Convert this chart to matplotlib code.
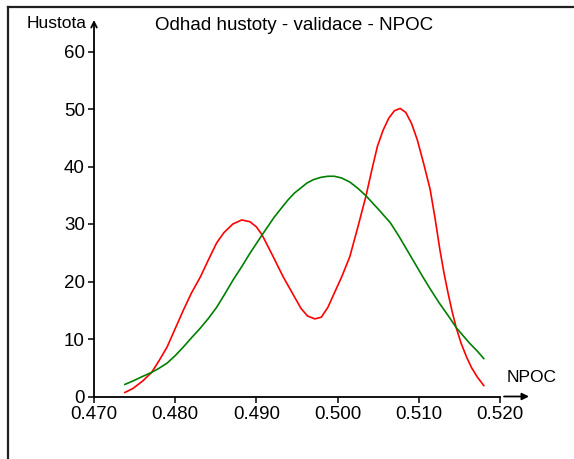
import matplotlib
matplotlib.use("Agg")
from matplotlib import pyplot as plt
from matplotlib.lines import Line2D

# kernel density estimate - validation data (red) and normal fit (green)
red_x = [0.4738, 0.4748, 0.4760, 0.4771, 0.4780, 0.4790, 0.4800, 0.4810, 0.4820,
         0.4831, 0.4841, 0.4851, 0.4860, 0.4871, 0.4882, 0.4892, 0.4900, 0.4907,
         0.4920, 0.4933, 0.4945, 0.4955, 0.4963, 0.4972, 0.4980, 0.4988, 0.4996,
         0.5005, 0.5015, 0.5025, 0.5035, 0.5042, 0.5049, 0.5056, 0.5063, 0.5070,
         0.5077, 0.5084, 0.5091, 0.5098, 0.5106, 0.5114, 0.5120, 0.5126, 0.5131,
         0.5136, 0.5141, 0.5146, 0.5152, 0.5159, 0.5165, 0.5172, 0.5180]
red_y = [0.7, 1.4, 2.7, 4.2, 6.2, 8.6, 11.8, 15.0, 18.0,
         20.8, 23.8, 26.7, 28.5, 30.0, 30.7, 30.4, 29.5, 28.1,
         24.5, 20.8, 17.8, 15.3, 14.0, 13.5, 13.8, 15.5, 18.0,
         20.8, 24.3, 29.5, 34.9, 39.3, 43.5, 46.3, 48.4, 49.7,
         50.1, 49.4, 47.5, 44.7, 40.5, 36.0, 31.0, 25.5, 21.5,
         18.0, 14.8, 12.0, 9.3, 6.8, 5.0, 3.4, 1.9]

green_x = [0.4738, 0.4748, 0.4760, 0.4771, 0.4780, 0.4790, 0.4800, 0.4810, 0.4820,
           0.4831, 0.4841, 0.4851, 0.4861, 0.4871, 0.4882, 0.4892, 0.4907, 0.4922,
           0.4931, 0.4939, 0.4947, 0.4955, 0.4962, 0.4970, 0.4979, 0.4988, 0.4996,
           0.5005, 0.5015, 0.5025, 0.5035, 0.5050, 0.5065, 0.5075, 0.5085, 0.5095,
           0.5105, 0.5115, 0.5125, 0.5136, 0.5146, 0.5155, 0.5163, 0.5172, 0.5180]
green_y = [2.1, 2.7, 3.5, 4.2, 4.9, 5.8, 7.1, 8.6, 10.2,
           11.9, 13.6, 15.5, 17.8, 20.2, 22.6, 24.9, 28.1, 31.2,
           32.8, 34.2, 35.4, 36.3, 37.1, 37.7, 38.1, 38.3, 38.3,
           38.0, 37.3, 36.2, 34.9, 32.6, 30.2, 28.0, 25.6, 23.2,
           20.8, 18.5, 16.3, 14.1, 12.0, 10.5, 9.2, 7.9, 6.6]

x_ticks = [0.470, 0.480, 0.490, 0.500, 0.510, 0.520]
x_ticklabels = ["0.470", "0.480", "0.490", "0.500", "0.510", "0.520"]
y_ticks = [0, 10, 20, 30, 40, 50, 60]

plt.rcParams['font.family'] = ['Liberation Sans', 'DejaVu Sans']

W, H = 574, 459
fig = plt.figure(figsize=(W / 100, H / 100), dpi=100)
fig.patch.set_facecolor("white")

# window frame
fig.add_artist(Line2D([8 / W, 1], [1 - 7 / H, 1 - 7 / H], color="#202020", lw=1.6))
fig.add_artist(Line2D([8 / W, 8 / W], [0, 1 - 7 / H], color="#202020", lw=1.6))

ax = fig.add_axes([94 / W, 1 - 396.5 / H, (500 - 94) / W, (396.5 - 51.5) / H])
ax.plot(red_x, red_y, color="#ff0000", lw=1.2)
ax.plot(green_x, green_y, color="#008000", lw=1.2)

ax.set_xlim(0.470, 0.520)
ax.set_ylim(0, 60)
ax.set_xticks(x_ticks)
ax.set_xticklabels(x_ticklabels)
ax.set_yticks(y_ticks)
ax.tick_params(direction="out", length=4.5, width=1.1, labelsize=13.5, pad=2)
for s in ["top", "right"]:
    ax.spines[s].set_visible(False)
for s in ["left", "bottom"]:
    ax.spines[s].set_linewidth(1.3)
ax.set_facecolor("none")

# axis arrows
ax.annotate("", xy=(94, H - 20), xytext=(94, H - 51.5), xycoords="figure pixels",
            textcoords="figure pixels",
            arrowprops=dict(arrowstyle="->", lw=1.3, color="black", shrinkA=0, shrinkB=0))
ax.annotate("", xy=(529, H - 396.5), xytext=(504, H - 396.5), xycoords="figure pixels",
            textcoords="figure pixels",
            arrowprops=dict(arrowstyle="-|>", lw=1.3, color="black", shrinkA=0, shrinkB=0,
                            mutation_scale=10))

fig.text(87 / W, 1 - 24 / H, "Hustota", ha="right", va="center", fontsize=12.5)
fig.text(507 / W, 1 - 377 / H, "NPOC", ha="left", va="center", fontsize=12.5)
fig.text(294 / W, 1 - 25 / H, "Odhad hustoty - validace - NPOC", ha="center", va="center",
         fontsize=13.5)

fig.savefig("out.png", dpi=100)
